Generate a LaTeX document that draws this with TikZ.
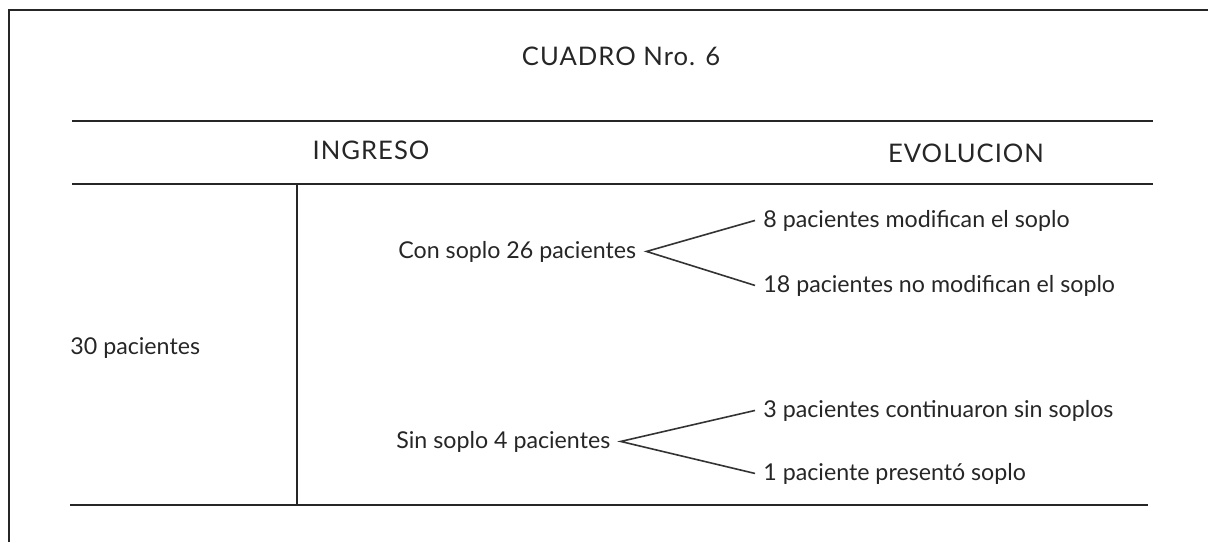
\documentclass[tikz,border=0pt]{standalone}
\usepackage{fontspec}
\setmainfont{Lato}
\newfontfamily\headfont[LetterSpace=4]{Lato}
\begin{document}
\begin{tikzpicture}[x=0.5pt,y=-0.5pt,
  rule/.style={line width=0.8pt, black!85},
  frame/.style={line width=1.3pt, black!85},
  branch/.style={line width=0.8pt, black!80},
  txt/.style={inner sep=0pt, font=\fontsize{11.6}{13}\selectfont, text=black!85},
  head/.style={txt, font=\headfont\fontsize{12.8}{14}\selectfont},
  src/.style={txt, anchor=base west, inner xsep=5pt},
  leaf/.style={txt, anchor=base west, inner xsep=4pt}]
\useasboundingbox (0,0) rectangle (1208,542);
% outer frame (open on right and bottom)
\coordinate (fbl) at (9,542);
\coordinate (ftl) at (9,10);
\coordinate (ftr) at (1208,10);
\draw[frame] (fbl) -- (ftl) -- (ftr);
% horizontal rules
\coordinate (r1a) at (72,121);  \coordinate (r1b) at (1153,121);
\coordinate (r2a) at (72,184);  \coordinate (r2b) at (1153,184);
\coordinate (r3a) at (70,505);  \coordinate (r3b) at (1148,505);
\draw[rule] (r1a) -- (r1b);
\draw[rule] (r2a) -- (r2b);
\draw[rule] (r3a) -- (r3b);
% vertical separator
\coordinate (vt) at (297,184); \coordinate (vb) at (297,505);
\draw[rule] (vt) -- (vb);
% titles
\node[head] (title) at (621,56) {CUADRO Nro. 6};
\node[head] (ing) at (371,150) {INGRESO};
\node[head] (evo) at (966,153) {EVOLUCION};
% contents
\node[txt, anchor=base west] (tot) at (70,354) {30 pacientes};
\node[src] (con) at (388,258) {Con soplo 26 pacientes};
\node[src] (sin) at (386,448) {Sin soplo 4 pacientes};
\node[leaf] (c1) at (755,227) {8 pacientes modifican el soplo};
\node[leaf] (c2) at (755,292) {18 pacientes no modifican el soplo};
\node[leaf] (s1) at (755,417) {3 pacientes continuaron sin soplos};
\node[leaf] (s2) at (755,480) {1 paciente presentó soplo};
\draw[branch] (c1.west) -- (con.east) -- (c2.west);
\draw[branch] (s1.west) -- (sin.east) -- (s2.west);
\end{tikzpicture}
\end{document}
